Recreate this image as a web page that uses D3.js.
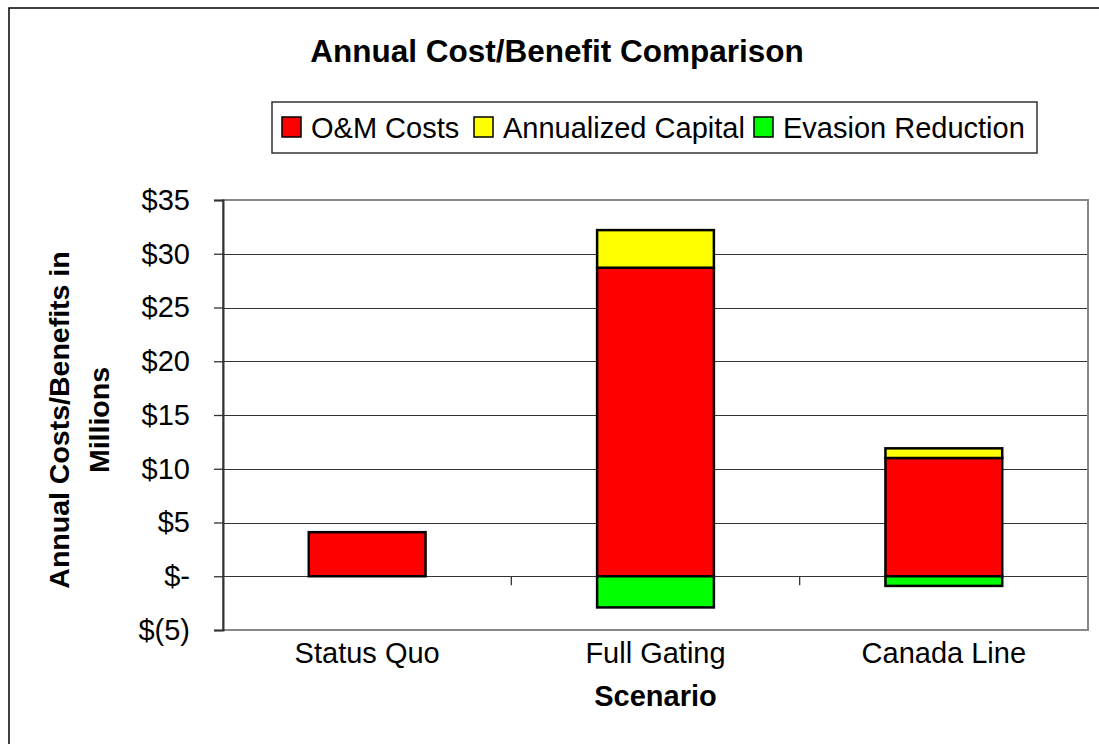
<!DOCTYPE html>
<meta charset="utf-8">
<head>
<style>
body { margin: 0; background: #fff; font-family: "Liberation Sans", Arial, sans-serif; }
.grid line { stroke: #333; stroke-width: 1px; shape-rendering: crispEdges; }
.bar { stroke: #000; stroke-width: 2.5px; }
</style>
<script src="https://d3js.org/d3.v7.min.js"></script>
</head>
<body>
<div id="chart"></div>
<script>

var categories = ["Status Quo", "Full Gating", "Canada Line"];
var seriesNames = ["O&M Costs", "Annualized Capital", "Evasion Reduction"];
var seriesColors = ["#ff0000", "#ffff00", "#00ff00"];
var omCosts = [4.1, 28.7, 11.0];
var annualizedCapital = [0, 3.5, 0.9];
var evasionReduction = [0, -2.9, -0.9];
var yTicks = [-5, 0, 5, 10, 15, 20, 25, 30, 35];

var W = 1099, H = 744;
var margin = {top: 200, right: 11, bottom: 114, left: 223},
  width = W - margin.left - margin.right,
  height = H - margin.top - margin.bottom;

var svg = d3.select("#chart").append("svg")
  .attr("width", W).attr("height", H);

// outer chart border (clipped at right/bottom like the original)
svg.append("rect")
  .attr("x", 9).attr("y", 8)
  .attr("width", W + 20).attr("height", H + 20)
  .attr("fill", "none").attr("stroke", "#000").attr("stroke-width", 1.5);

svg.append("text")
  .attr("x", 557).attr("y", 62)
  .attr("text-anchor", "middle")
  .style("font-size", "31.5px").style("font-weight", "bold")
  .text("Annual Cost/Benefit Comparison");

var g = svg.append("g")
  .attr("transform", "translate(" + margin.left + "," + margin.top + ")");

var x = d3.scaleBand().domain(categories).range([0, width]).paddingInner(0.595).paddingOuter(0.2975);
var band = d3.scaleBand().domain(categories).range([0, width]);
var y = d3.scaleLinear().domain([-5, 35]).range([height, 0]);

function fmt(d) {
  if (d < 0) return "$(" + (-d) + ")";
  if (d === 0) return "$-";
  return "$" + d;
}

// gridlines
g.append("g").attr("class", "grid")
  .selectAll("line")
  .data(yTicks.filter(function(d) { return d > -5 && d < 35; }))
  .enter().append("line")
    .attr("x1", 0).attr("x2", width)
    .attr("y1", function(d) { return Math.round(y(d)) + 0.5; })
    .attr("y2", function(d) { return Math.round(y(d)) + 0.5; });

// plot area border
g.append("rect")
  .attr("x", 0).attr("y", 0).attr("width", width).attr("height", height)
  .attr("fill", "none").attr("stroke", "#888").attr("stroke-width", 2);

// y axis
var yAxis = g.append("g")
  .call(d3.axisLeft(y).tickValues(yTicks).tickFormat(fmt).tickSize(9).tickPadding(24));
yAxis.select(".domain").attr("stroke", "#333").attr("stroke-width", 2);
yAxis.selectAll(".tick line").attr("stroke", "#333").attr("stroke-width", 1.3);
yAxis.selectAll("text")
  .style("font-size", "29px").style("font-family", "Liberation Sans, Arial, sans-serif").attr("fill", "#000");

// category ticks on zero line
g.append("g").selectAll("line")
  .data(categories.slice(1))
  .enter().append("line")
    .attr("x1", function(d) { return band(d); })
    .attr("x2", function(d) { return band(d); })
    .attr("y1", y(0)).attr("y2", y(0) + 9)
    .attr("stroke", "#333").attr("stroke-width", 1.3);

// stacked bars
var rows = categories.map(function(c, i) {
  return {cat: c, "O&M Costs": omCosts[i], "Annualized Capital": annualizedCapital[i], "Evasion Reduction": evasionReduction[i]};
});
var stacked = d3.stack().keys(seriesNames).offset(d3.stackOffsetDiverging)(rows);
var color = d3.scaleOrdinal().domain(seriesNames).range(seriesColors);

g.selectAll(".layer")
  .data(stacked)
  .enter().append("g")
    .attr("fill", function(d) { return color(d.key); })
  .selectAll("rect")
  .data(function(d) { return d.filter(function(p) { return p[1] !== p[0]; }); })
  .enter().append("rect")
    .attr("class", "bar")
    .attr("x", function(d) { return x(d.data.cat); })
    .attr("width", x.bandwidth())
    .attr("y", function(d) { return y(Math.max(d[0], d[1])); })
    .attr("height", function(d) { return Math.abs(y(d[0]) - y(d[1])); });

// x labels
g.append("g").selectAll("text")
  .data(categories)
  .enter().append("text")
    .attr("x", function(d) { return band(d) + band.bandwidth() / 2; })
    .attr("y", height + 33)
    .attr("text-anchor", "middle")
    .style("font-size", "29px")
    .text(function(d) { return d; });

g.append("text")
  .attr("x", band("Full Gating") + band.bandwidth() / 2)
  .attr("y", height + 76)
  .attr("text-anchor", "middle")
  .style("font-size", "29px").style("font-weight", "bold")
  .text("Scenario");

// y axis title
var yt = svg.append("text")
  .attr("transform", "translate(69,420) rotate(-90)")
  .attr("text-anchor", "middle")
  .style("font-size", "28.5px").style("font-weight", "bold");
yt.append("tspan").attr("x", 0).attr("y", 0).text("Annual Costs/Benefits in");
yt.append("tspan").attr("x", 0).attr("y", 40).text("Millions");

// legend
var lg = svg.append("g").attr("transform", "translate(272,102)");
lg.append("rect").attr("width", 765).attr("height", 51)
  .attr("fill", "#fff").attr("stroke", "#333").attr("stroke-width", 1.5);
var lx = [10, 202, 482];
var items = lg.selectAll(".item").data(seriesNames).enter().append("g")
  .attr("transform", function(d, i) { return "translate(" + lx[i] + ",0)"; });
items.append("rect")
  .attr("x", 0).attr("y", 15).attr("width", 19).attr("height", 20)
  .attr("fill", function(d) { return color(d); })
  .attr("stroke", "#000").attr("stroke-width", 1.5);
items.append("text")
  .attr("x", 29).attr("y", 36)
  .style("font-size", "29px")
  .text(function(d) { return d; });

</script>
</body>
</html>
